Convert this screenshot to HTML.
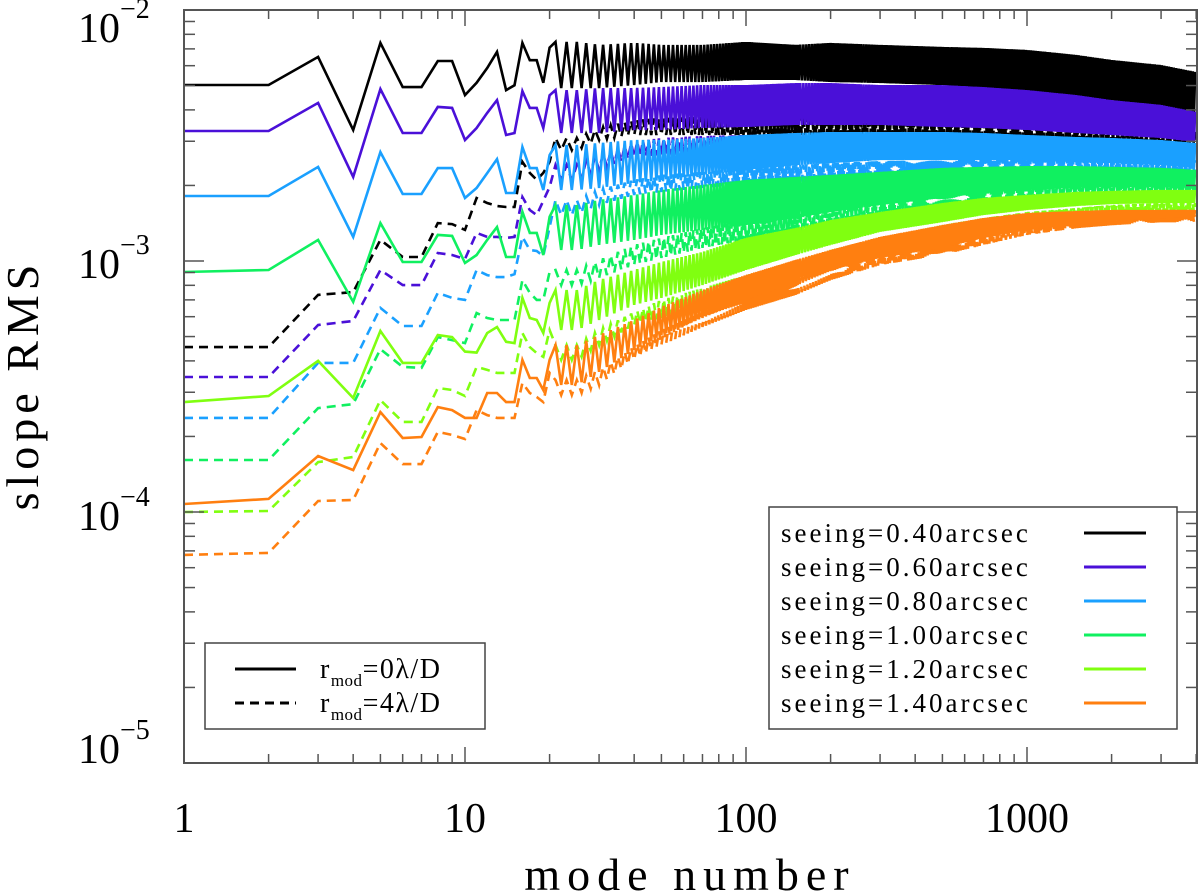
<!DOCTYPE html>
<html><head><meta charset="utf-8"><style>
html,body{margin:0;padding:0;background:#fff;}
svg{display:block;font-family:"Liberation Serif",serif;}
</style></head><body>
<svg id="chart" width="1200" height="891" viewBox="0 0 1200 891" xmlns="http://www.w3.org/2000/svg">
<g id="series"></g>
<g id="axes"></g>
<text x="0" y="0" font-size="46" transform="translate(38,385) rotate(-90)" text-anchor="middle" letter-spacing="5">slope RMS</text>
<text x="690" y="890" font-size="46" text-anchor="middle" letter-spacing="7">mode number</text>
<g>
<rect x="205" y="643" width="280" height="86" fill="#fff" stroke="#444" stroke-width="1.5"/>
<line x1="235" y1="669" x2="296" y2="669" stroke="#000" stroke-width="3"/>
<line x1="235" y1="703" x2="296" y2="703" stroke="#000" stroke-width="3" stroke-dasharray="9,6"/>
<text x="320" y="678" font-size="28" letter-spacing="1.5">r<tspan font-size="17" dy="8" letter-spacing="0.5">mod</tspan><tspan dy="-8">=0λ/D</tspan></text>
<text x="320" y="712" font-size="28" letter-spacing="1.5">r<tspan font-size="17" dy="8" letter-spacing="0.5">mod</tspan><tspan dy="-8">=4λ/D</tspan></text>
</g>
<g id="legend">
<rect x="769" y="507" width="408" height="222" fill="#fff" stroke="#444" stroke-width="1.5"/>
</g>
</svg>
<script>
const lowModes = [1,2,3,4,5,6,7,8,9,10,11,12,13,14,15,16,17,18,19,20];
const hiModes = [25,30,40,50,70,100,150,200,300,500,700,1000,1500,2000,3000,4000];
const seeingLabels = ["seeing=0.40arcsec","seeing=0.60arcsec","seeing=0.80arcsec","seeing=1.00arcsec","seeing=1.20arcsec","seeing=1.40arcsec"];
const seeingColors = ["#000000","#4a10d8","#1aa0ff","#10f060","#80ff10","#ff7f10"];
const xTickLabels = ["1","10","100","1000"];
const yTickExps = ["-2","-3","-4","-5"];

// log10(slope RMS) values
const blackSolidLow = [-2.299,-2.299,-2.187,-2.478,-2.131,-2.307,-2.307,-2.203,-2.203,-2.339,-2.29,-2.231,-2.167,-2.319,-2.30,-2.131,-2.20,-2.20,-2.29,-2.15];
const blackSolidHi = [-2.127,-2.139,-2.131,-2.139,-2.139,-2.127,-2.139,-2.131,-2.139,-2.147,-2.151,-2.159,-2.179,-2.199,-2.219,-2.247];
const blackSolidLo = [-2.311,-2.311,-2.299,-2.287,-2.287,-2.279,-2.279,-2.287,-2.291,-2.299,-2.311,-2.327,-2.351,-2.359,-2.390,-2.418];
const blackDashLow = [-3.343,-3.343,-3.135,-3.124,-2.916,-2.984,-2.984,-2.849,-2.853,-2.876,-2.749,-2.769,-2.781,-2.785,-2.785,-2.605,-2.649,-2.677,-2.649,-2.605];
const blackDashHi = [-2.510,-2.470,-2.438,-2.430,-2.426,-2.426,-2.422,-2.418,-2.418,-2.418,-2.422,-2.426,-2.438,-2.450,-2.466,-2.486];
const blackDashLo = [-2.558,-2.518,-2.498,-2.498,-2.498,-2.498,-2.498,-2.498,-2.498,-2.498,-2.506,-2.510,-2.518,-2.526,-2.538,-2.550];

const purpleSolidLow = [-2.482,-2.482,-2.37,-2.665,-2.315,-2.49,-2.49,-2.386,-2.39,-2.518,-2.47,-2.41,-2.359,-2.498,-2.49,-2.323,-2.39,-2.39,-2.47,-2.34];
const purpleSolidHi = [-2.319,-2.311,-2.311,-2.307,-2.299,-2.299,-2.291,-2.291,-2.299,-2.299,-2.307,-2.319,-2.339,-2.359,-2.378,-2.406];
const purpleSolidLo = [-2.490,-2.490,-2.478,-2.478,-2.470,-2.466,-2.458,-2.458,-2.458,-2.466,-2.470,-2.478,-2.490,-2.498,-2.510,-2.526];
const purpleDashLow = [-3.462,-3.462,-3.255,-3.239,-3.036,-3.096,-3.096,-2.968,-2.976,-2.992,-2.888,-2.904,-2.904,-2.908,-2.904,-2.745,-2.797,-2.817,-2.76,-2.705];
const purpleDashHi = [-2.618,-2.578,-2.526,-2.510,-2.502,-2.498,-2.498,-2.498,-2.498,-2.498,-2.502,-2.506,-2.510,-2.518,-2.526,-2.538];
const purpleDashLo = [-2.677,-2.637,-2.586,-2.578,-2.570,-2.566,-2.562,-2.558,-2.558,-2.558,-2.562,-2.566,-2.566,-2.570,-2.578,-2.586];

const blueSolidLow = [-2.741,-2.741,-2.625,-2.904,-2.566,-2.733,-2.733,-2.63,-2.63,-2.749,-2.709,-2.65,-2.594,-2.729,-2.729,-2.546,-2.63,-2.63,-2.717,-2.578];
const blueSolidHi = [-2.538,-2.530,-2.518,-2.518,-2.510,-2.498,-2.490,-2.486,-2.486,-2.486,-2.490,-2.498,-2.506,-2.510,-2.518,-2.530];
const blueSolidLo = [-2.717,-2.709,-2.689,-2.677,-2.657,-2.637,-2.618,-2.610,-2.598,-2.598,-2.598,-2.598,-2.606,-2.610,-2.618,-2.629];
const blueDashLow = [-3.625,-3.625,-3.406,-3.406,-3.187,-3.259,-3.259,-3.127,-3.147,-3.155,-3.036,-3.056,-3.064,-3.064,-3.052,-2.904,-2.956,-2.960,-2.980,-2.865];
const blueDashHi = [-2.757,-2.717,-2.677,-2.657,-2.645,-2.629,-2.618,-2.610,-2.602,-2.598,-2.594,-2.590,-2.590,-2.590,-2.594,-2.598];
const blueDashLo = [-2.817,-2.777,-2.737,-2.725,-2.709,-2.697,-2.685,-2.677,-2.665,-2.657,-2.649,-2.645,-2.641,-2.637,-2.641,-2.645];

const greenSolidLow = [-3.044,-3.036,-2.916,-3.163,-2.849,-3.004,-3.004,-2.896,-2.900,-3.008,-2.976,-2.916,-2.865,-2.984,-2.984,-2.804,-2.888,-2.888,-2.976,-2.824];
const greenSolidHi = [-2.777,-2.757,-2.737,-2.717,-2.697,-2.677,-2.665,-2.657,-2.645,-2.629,-2.625,-2.622,-2.622,-2.625,-2.629,-2.637];
const greenSolidLo = [-2.956,-2.936,-2.916,-2.896,-2.876,-2.857,-2.829,-2.805,-2.777,-2.749,-2.729,-2.717,-2.709,-2.705,-2.705,-2.709];
const greenDashLow = [-3.793,-3.793,-3.586,-3.570,-3.351,-3.422,-3.426,-3.303,-3.315,-3.327,-3.207,-3.227,-3.235,-3.235,-3.235,-3.076,-3.127,-3.155,-3.155,-3.044];
const greenDashHi = [-3.036,-2.996,-2.936,-2.908,-2.869,-2.837,-2.805,-2.777,-2.749,-2.725,-2.713,-2.705,-2.701,-2.697,-2.697,-2.697];
const greenDashLo = [-3.096,-3.068,-3.016,-2.988,-2.948,-2.916,-2.884,-2.857,-2.817,-2.785,-2.769,-2.757,-2.749,-2.745,-2.745,-2.745];

const ygSolidLow = [-3.562,-3.538,-3.398,-3.546,-3.279,-3.406,-3.406,-3.295,-3.303,-3.361,-3.365,-3.287,-3.263,-3.322,-3.327,-3.147,-3.227,-3.235,-3.287,-3.167];
const ygSolidHi = [-3.116,-3.076,-3.036,-3.004,-2.964,-2.908,-2.869,-2.837,-2.805,-2.769,-2.749,-2.737,-2.725,-2.721,-2.717,-2.717];
const ygSolidLo = [-3.275,-3.235,-3.175,-3.147,-3.096,-3.036,-2.976,-2.936,-2.884,-2.845,-2.817,-2.797,-2.781,-2.773,-2.769,-2.769];
const ygDashLow = [-4.000,-3.996,-3.801,-3.781,-3.554,-3.641,-3.641,-3.506,-3.514,-3.538,-3.422,-3.434,-3.446,-3.446,-3.446,-3.287,-3.343,-3.367,-3.382,-3.275];
const ygDashHi = [-3.335,-3.275,-3.203,-3.155,-3.108,-3.056,-3.004,-2.956,-2.908,-2.857,-2.829,-2.805,-2.789,-2.777,-2.769,-2.769];
const ygDashLo = [-3.394,-3.335,-3.255,-3.227,-3.163,-3.116,-3.064,-3.016,-2.964,-2.916,-2.884,-2.857,-2.837,-2.817,-2.809,-2.809];

const orangeSolidLow = [-3.968,-3.948,-3.777,-3.833,-3.602,-3.705,-3.701,-3.582,-3.594,-3.625,-3.625,-3.526,-3.526,-3.562,-3.562,-3.394,-3.466,-3.466,-3.514,-3.394];
const orangeSolidHi = [-3.335,-3.295,-3.235,-3.183,-3.116,-3.056,-2.996,-2.956,-2.904,-2.857,-2.829,-2.809,-2.801,-2.797,-2.797,-2.797];
const orangeSolidLo = [-3.494,-3.442,-3.355,-3.295,-3.227,-3.155,-3.084,-3.036,-2.988,-2.948,-2.908,-2.876,-2.857,-2.841,-2.829,-2.825];
const orangeDashLow = [-4.171,-4.163,-3.956,-3.952,-3.725,-3.809,-3.809,-3.681,-3.693,-3.709,-3.594,-3.614,-3.625,-3.625,-3.625,-3.486,-3.526,-3.542,-3.562,-3.446];
const orangeDashHi = [-3.474,-3.434,-3.335,-3.275,-3.203,-3.135,-3.076,-3.016,-2.964,-2.916,-2.884,-2.857,-2.837,-2.829,-2.817,-2.817];
const orangeDashLo = [-3.534,-3.494,-3.394,-3.335,-3.263,-3.195,-3.135,-3.076,-3.016,-2.976,-2.936,-2.896,-2.869,-2.857,-2.845,-2.845];

const NS = "http://www.w3.org/2000/svg";
const PL = 184, PR = 1197, PT = 10, PB = 763;
const X = m => PL + 281 * Math.log10(m);
const Y = lg => PT + (-2 - lg) * 251;

const seriesList = [
  ["black-solid", 0, blackSolidLow, blackSolidHi, blackSolidLo, false],
  ["black-dashed", 0, blackDashLow, blackDashHi, blackDashLo, true],
  ["purple-solid", 1, purpleSolidLow, purpleSolidHi, purpleSolidLo, false],
  ["purple-dashed", 1, purpleDashLow, purpleDashHi, purpleDashLo, true],
  ["blue-solid", 2, blueSolidLow, blueSolidHi, blueSolidLo, false],
  ["blue-dashed", 2, blueDashLow, blueDashHi, blueDashLo, true],
  ["green-dashed", 3, greenDashLow, greenDashHi, greenDashLo, true],
  ["green-solid", 3, greenSolidLow, greenSolidHi, greenSolidLo, false],
  ["yellowgreen-dashed", 4, ygDashLow, ygDashHi, ygDashLo, true],
  ["yellowgreen-solid", 4, ygSolidLow, ygSolidHi, ygSolidLo, false],
  ["orange-dashed", 5, orangeDashLow, orangeDashHi, orangeDashLo, true],
  ["orange-solid", 5, orangeSolidLow, orangeSolidHi, orangeSolidLo, false]
];

// envelope lookup in log-mode space (rendering only)
function env(arr, m) {
  const lm = Math.log10(m);
  for (let i = 0; i < hiModes.length - 1; i++) {
    const a = Math.log10(hiModes[i]), b = Math.log10(hiModes[i + 1]);
    if (lm <= b) { const t = (lm - a) / (b - a); return arr[i] + (arr[i + 1] - arr[i]) * t; }
  }
  return arr[arr.length - 1];
}

const sg = document.getElementById('series');
const clip = document.createElementNS(NS, 'clipPath');
clip.setAttribute('id', 'plotclip');
const cr = document.createElementNS(NS, 'rect');
cr.setAttribute('x', PL); cr.setAttribute('y', PT); cr.setAttribute('width', PR - PL); cr.setAttribute('height', PB - PT);
clip.appendChild(cr);
document.getElementById('chart').prepend(clip);
sg.setAttribute('clip-path', 'url(#plotclip)');

seriesList.forEach(s => {
  const [nm, ci, low, hi, lo, dashed] = s;
  const col = seeingColors[ci];
  const g = document.createElementNS(NS, 'g');
  
  
  let lp = low.map((v, i) => X(lowModes[i]).toFixed(1) + ',' + Y(v).toFixed(1));
  let m = 21, k = 0;
  while (m <= 4000) {
    const v = (k % 2 === 0) ? env(hi, Math.max(m, 25)) : env(lo, Math.max(m, 25));
    lp.push(X(m).toFixed(1) + ',' + Y(v).toFixed(1));
    const step = Math.max(1, Math.round(m * 0.0098));
    m += step; k++;
  }
  const line = document.createElementNS(NS, 'polyline');
  
  
  line.setAttribute('points', lp.join(' '));
  line.setAttribute('fill', 'none');
  line.setAttribute('stroke', col);
  line.setAttribute('stroke-width', 2.6);
  line.setAttribute('stroke-linejoin', 'miter');
  if (dashed) line.setAttribute('stroke-dasharray', '9,6');
  g.appendChild(line);
  sg.appendChild(g);
});

// axes
const ax = document.getElementById('axes');
function ln(x1, y1, x2, y2, w, name) {
  const l = document.createElementNS(NS, 'line');
  l.setAttribute('x1', x1); l.setAttribute('y1', y1); l.setAttribute('x2', x2); l.setAttribute('y2', y2);
  l.setAttribute('stroke', '#555'); l.setAttribute('stroke-width', w);
  
  
  ax.appendChild(l);
}
const fr = document.createElementNS(NS, 'rect');
fr.setAttribute('x', PL); fr.setAttribute('y', PT); fr.setAttribute('width', PR - PL); fr.setAttribute('height', PB - PT);
fr.setAttribute('fill', 'none'); fr.setAttribute('stroke', '#555'); fr.setAttribute('stroke-width', 2);


ax.appendChild(fr);
for (let d = 0; d < 4; d++) {
  for (let k = 1; k < 10; k++) {
    const m = Math.pow(10, d) * k;
    if (m > 4000) break;
    const x = X(m), L = k === 1 ? 16 : 9;
    ln(x, PB, x, PB - L, 1.5, 'x-tick');
    ln(x, PT, x, PT + L, 1.5, 'x-tick-top');
  }
}
for (let e = -5; e < -2; e++) {
  for (let k = 1; k < 10; k++) {
    const lg = e + Math.log10(k);
    const y = Y(lg), L = k === 1 ? 20 : 11;
    ln(PL, y, PL + L, y, 1.5, 'y-tick');
    ln(PR, y, PR - L, y, 1.5, 'y-tick-right');
  }
}
xTickLabels.forEach((t, i) => {
  const tx = document.createElementNS(NS, 'text');
  tx.setAttribute('x', X(Math.pow(10, i)));
  tx.setAttribute('y', 832);
  tx.setAttribute('font-size', 42);
  tx.setAttribute('text-anchor', 'middle');
  
  
  tx.textContent = t;
  ax.appendChild(tx);
});
const yBase = [42, 278, 530, 763];
yTickExps.forEach((t, i) => {
  const tx = document.createElementNS(NS, 'text');
  tx.setAttribute('x', 78);
  tx.setAttribute('y', yBase[i]);
  tx.setAttribute('font-size', 42);
  
  
  tx.innerHTML = '10<tspan font-size="28" dy="-24">' + t.replace('-', '−') + '</tspan>';
  ax.appendChild(tx);
});

// seeing legend entries
const lg = document.getElementById('legend');
seeingLabels.forEach((t, i) => {
  const y = 533 + i * 34;
  const tx = document.createElementNS(NS, 'text');
  tx.setAttribute('x', 781); tx.setAttribute('y', y + 9);
  tx.setAttribute('font-size', 27);
  tx.setAttribute('letter-spacing', '3');
  
  
  tx.textContent = t;
  lg.appendChild(tx);
  const l = document.createElementNS(NS, 'line');
  l.setAttribute('x1', 1084); l.setAttribute('x2', 1146); l.setAttribute('y1', y); l.setAttribute('y2', y);
  l.setAttribute('stroke', seeingColors[i]); l.setAttribute('stroke-width', 3);
  
  
  lg.appendChild(l);
});
</script>
</body></html>
